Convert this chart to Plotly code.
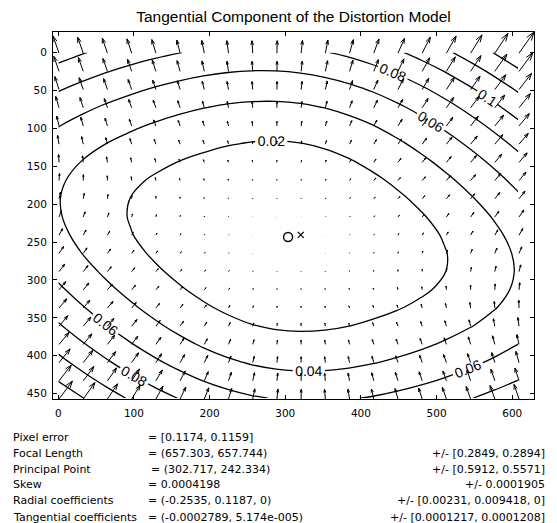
import numpy as np
import plotly.graph_objects as go

# ---- values ----
IMG_SIZE = [640, 480]                      # nx, ny
FC = [657.303, 657.744]                    # focal length
CC = [302.717, 242.334]                    # principal point
SKEW = 0.0004198
KC = [-0.2535, 0.1187, -0.0002789, 5.174e-005, 0]

TITLE = "Tangential Component of the Distortion Model"
X_TICKS = [0, 100, 200, 300, 400, 500, 600]
Y_TICKS = [0, 50, 100, 150, 200, 250, 300, 350, 400, 450]
LEVEL_START, LEVEL_END, LEVEL_STEP = 0.02, 0.16, 0.02

ROW_LABELS = ["Pixel error", "Focal Length", "Principal Point", "Skew",
              "Radial coefficients", "Tangential coefficients"]
ROW_VALUES = ["= [0.1174, 0.1159]", "= (657.303, 657.744)", "= (302.717, 242.334)",
              "= 0.0004198", "= (-0.2535, 0.1187, 0)", "= (-0.0002789, 5.174e-005)"]
ROW_ERRORS = ["", "+/- [0.2849, 0.2894]", "+/- [0.5912, 0.5571]", "+/- 0.0001905",
              "+/- [0.00231, 0.009418, 0]", "+/- [0.0001217, 0.0001208]"]

# ---- tangential distortion field from the model ----
nx, ny = IMG_SIZE
gx = np.arange(0, nx, nx / 20)
gy = np.arange(0, ny, ny / 20)
MX, MY = np.meshgrid(gx, gy)
yn = (MY - CC[1]) / FC[1]
xn = (MX - CC[0] - SKEW * FC[0] * yn) / FC[0]
r2 = xn ** 2 + yn ** 2
p1, p2 = KC[2], KC[3]
dxn = 2 * p1 * xn * yn + p2 * (r2 + 2 * xn ** 2)
dyn = p1 * (r2 + 2 * yn ** 2) + 2 * p2 * xn * yn
DU = FC[0] * (dxn + SKEW * dyn)
DV = FC[1] * dyn
DR = np.sqrt(DU ** 2 + DV ** 2)

# ---- quiver (MATLAB-style autoscale and heads) ----
px = MX.ravel() + 1
py = MY.ravel() + 1
u = DU.ravel()
v = DV.ravel()
n = np.sqrt(px.size)
delx = (px.max() - px.min()) / n
dely = (py.max() - py.min()) / n
le = np.sqrt((u ** 2 + v ** 2) / (delx ** 2 + dely ** 2))
sc = 0.9 / le.max()
u = u * sc
v = v * sc
alpha, beta, eps = 0.33, 0.33, 2.2e-16
qx, qy = [], []
for x0, y0, uu, vv in zip(px, py, u, v):
    qx += [x0, x0 + uu, None,
           x0 + uu - alpha * (uu + beta * (vv + eps)), x0 + uu,
           x0 + uu - alpha * (uu - beta * (vv + eps)), None]
    qy += [y0, y0 + vv, None,
           y0 + vv - alpha * (vv - beta * (uu + eps)), y0 + vv,
           y0 + vv - alpha * (vv + beta * (uu + eps)), None]
allx = np.array([a for a in qx if a is not None])
ally = np.array([a for a in qy if a is not None])
xr = [allx.min(), allx.max()]
yr = [ally.max(), ally.min()]

FONT = "Liberation Sans, Arial, Helvetica, sans-serif"
WFONT = "DejaVu Sans, Verdana, sans-serif"
fig = go.Figure()
fig.add_trace(go.Scatter(x=qx, y=qy, mode="lines",
                         line=dict(color="black", width=1), hoverinfo="skip",
                         showlegend=False))
fig.add_trace(go.Contour(x=gx, y=gy, z=DR, showscale=False,
                         colorscale=[[0, "black"], [1, "black"]],
                         line=dict(width=1.3),
                         contours=dict(coloring="lines", start=LEVEL_START,
                                       end=LEVEL_END, size=LEVEL_STEP,
                                       showlabels=True,
                                       labelfont=dict(size=14, color="black", family=FONT),
                                       labelformat=".2~f"),
                         hoverinfo="skip"))
fig.add_trace(go.Scatter(x=[CC[0] + 1], y=[CC[1] + 1], mode="markers",
                         marker=dict(symbol="circle-open", size=9, color="black",
                                     line=dict(width=1.4)), showlegend=False))
fig.add_trace(go.Scatter(x=[(nx - 1) / 2 + 1], y=[(ny - 1) / 2 + 1], mode="markers",
                         marker=dict(symbol="x-thin-open", size=6, color="black",
                                     line=dict(width=1.2)), showlegend=False))

L, R, T, B = 53, 534, 32, 399
W, H = 557, 523
axis_common = dict(showgrid=False, zeroline=False, showline=True, linecolor="black",
                   linewidth=1, mirror="ticks", ticks="inside", ticklen=4,
                   tickcolor="black", tickfont=dict(size=10.5, family=WFONT, color="black"))
fig.update_layout(
    width=W, height=H, margin=dict(l=L, r=W - R, t=T, b=H - B),
    paper_bgcolor="white", plot_bgcolor="white", showlegend=False,
    title=dict(text=TITLE, x=(L + R) / 2 / W, xanchor="center", y=1 - 17 / H,
               yanchor="middle", font=dict(size=15.5, family=FONT, color="black")),
    xaxis=dict(range=xr, tickvals=X_TICKS, ticklabelstandoff=4, **axis_common),
    yaxis=dict(range=yr, tickvals=Y_TICKS, ticklabelstandoff=3, **axis_common),
)


def px2paper(xp, yp):
    return (xp - L) / (R - L), (B - yp) / (B - T)


ann = []
for i, (lab, val, err) in enumerate(zip(ROW_LABELS, ROW_VALUES, ROW_ERRORS)):
    yp = 437 + 16 * i
    f = dict(size=11, family=WFONT, color="black")
    x0, y0 = px2paper(11, yp)
    ann.append(dict(text=lab, x=x0, y=y0, xanchor="left", yanchor="middle", font=f))
    x1, _ = px2paper(149 if i == 2 else 146, yp)
    ann.append(dict(text=val, x=x1, y=y0, xanchor="left", yanchor="middle", font=f))
    if err:
        x2, _ = px2paper(547, yp)
        ann.append(dict(text=err, x=x2, y=y0, xanchor="right", yanchor="middle", font=f))
for a in ann:
    a.update(xref="paper", yref="paper", showarrow=False)
fig.update_layout(annotations=ann)

fig.write_html("out.html", config={"displayModeBar": False},
               post_script="document.body.style.margin='0';"
                           "document.body.style.overflow='hidden';")
